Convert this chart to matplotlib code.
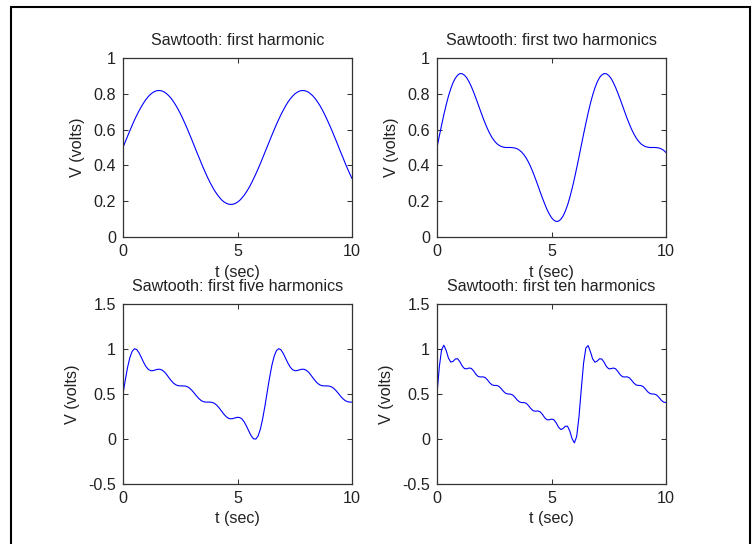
import numpy as np
import matplotlib
matplotlib.use("Agg")
import matplotlib.pyplot as plt
from matplotlib.patches import Rectangle

plt.rcParams['font.family'] = ['Liberation Sans', 'DejaVu Sans']
plt.rcParams['font.size'] = 11.6

# sample times, t = 0:0.1:10
t = np.linspace(0, 10, 101)

# V (volts) for each partial sum, one value per sample time
v_one = [0.500, 0.532, 0.563, 0.594, 0.624, 0.653, 0.680, 0.705, 0.728, 0.749,
         0.768, 0.784, 0.797, 0.807, 0.814, 0.818, 0.818, 0.816, 0.810, 0.801,
         0.789, 0.775, 0.757, 0.737, 0.715, 0.691, 0.664, 0.636, 0.607, 0.576,
         0.545, 0.513, 0.481, 0.450, 0.419, 0.388, 0.359, 0.331, 0.305, 0.281,
         0.259, 0.240, 0.223, 0.208, 0.197, 0.189, 0.184, 0.182, 0.183, 0.187,
         0.195, 0.205, 0.219, 0.235, 0.254, 0.275, 0.299, 0.325, 0.352, 0.381,
         0.411, 0.442, 0.474, 0.505, 0.537, 0.568, 0.599, 0.629, 0.657, 0.684,
         0.709, 0.732, 0.753, 0.771, 0.786, 0.799, 0.808, 0.815, 0.818, 0.818,
         0.815, 0.809, 0.799, 0.787, 0.772, 0.754, 0.734, 0.711, 0.686, 0.659,
         0.631, 0.602, 0.571, 0.540, 0.508, 0.476, 0.445, 0.413, 0.383, 0.354,
         0.327]

v_two = [0.500, 0.563, 0.625, 0.684, 0.738, 0.787, 0.828, 0.862, 0.887, 0.904,
         0.913, 0.912, 0.904, 0.889, 0.867, 0.840, 0.809, 0.775, 0.740, 0.704,
         0.669, 0.636, 0.606, 0.579, 0.556, 0.538, 0.523, 0.513, 0.506, 0.502,
         0.500, 0.500, 0.500, 0.499, 0.497, 0.493, 0.485, 0.474, 0.459, 0.440,
         0.417, 0.389, 0.359, 0.325, 0.290, 0.254, 0.219, 0.186, 0.155, 0.129,
         0.108, 0.094, 0.087, 0.088, 0.098, 0.116, 0.143, 0.178, 0.221, 0.271,
         0.326, 0.385, 0.447, 0.511, 0.574, 0.635, 0.693, 0.747, 0.794, 0.834,
         0.867, 0.891, 0.906, 0.913, 0.912, 0.902, 0.886, 0.863, 0.835, 0.803,
         0.769, 0.734, 0.698, 0.663, 0.631, 0.601, 0.575, 0.553, 0.535, 0.521,
         0.512, 0.505, 0.502, 0.500, 0.500, 0.500, 0.499, 0.497, 0.492, 0.484,
         0.472]

v_five = [0.500, 0.656, 0.796, 0.905, 0.974, 1.003, 0.994, 0.958, 0.906, 0.852,
          0.806, 0.775, 0.760, 0.759, 0.766, 0.774, 0.775, 0.767, 0.747, 0.718,
          0.683, 0.650, 0.622, 0.603, 0.593, 0.590, 0.590, 0.589, 0.582, 0.567,
          0.543, 0.513, 0.482, 0.453, 0.430, 0.416, 0.410, 0.410, 0.410, 0.406,
          0.395, 0.374, 0.345, 0.311, 0.277, 0.249, 0.231, 0.224, 0.227, 0.235,
          0.241, 0.238, 0.221, 0.187, 0.139, 0.085, 0.035, 0.002, -0.001, 0.034,
          0.111, 0.226, 0.369, 0.527, 0.681, 0.817, 0.919, 0.982, 1.004, 0.990,
          0.950, 0.897, 0.844, 0.800, 0.771, 0.759, 0.760, 0.768, 0.775, 0.775,
          0.764, 0.743, 0.712, 0.678, 0.645, 0.618, 0.600, 0.592, 0.590, 0.590,
          0.588, 0.580, 0.563, 0.538, 0.508, 0.476, 0.448, 0.427, 0.415, 0.410,
          0.410]

v_ten = [0.500, 0.799, 0.993, 1.042, 0.984, 0.899, 0.855, 0.862, 0.889, 0.892,
         0.858, 0.812, 0.782, 0.780, 0.789, 0.784, 0.756, 0.719, 0.694, 0.689,
         0.691, 0.683, 0.658, 0.625, 0.602, 0.595, 0.595, 0.586, 0.561, 0.530,
         0.507, 0.500, 0.499, 0.490, 0.465, 0.434, 0.412, 0.405, 0.405, 0.396,
         0.370, 0.337, 0.314, 0.309, 0.312, 0.303, 0.275, 0.238, 0.214, 0.213,
         0.221, 0.215, 0.181, 0.134, 0.106, 0.115, 0.142, 0.142, 0.088, 0.003,
         -0.043, 0.029, 0.247, 0.553, 0.841, 1.012, 1.038, 0.969, 0.888, 0.853,
         0.867, 0.892, 0.888, 0.851, 0.805, 0.780, 0.781, 0.789, 0.780, 0.750,
         0.714, 0.692, 0.689, 0.691, 0.680, 0.652, 0.620, 0.600, 0.595, 0.594,
         0.583, 0.556, 0.525, 0.505, 0.500, 0.499, 0.487, 0.460, 0.429, 0.409,
         0.405]

titles = ['Sawtooth: first harmonic', 'Sawtooth: first two harmonics',
          'Sawtooth: first five harmonics', 'Sawtooth: first ten harmonics']

xticks = [0, 5, 10]
xtick_labels = ['0', '5', '10']
yticks_a = [0, 0.2, 0.4, 0.6, 0.8, 1]
ytick_labels_a = ['0', '0.2', '0.4', '0.6', '0.8', '1']
yticks_b = [-0.5, 0, 0.5, 1, 1.5]
ytick_labels_b = ['-0.5', '0', '0.5', '1', '1.5']

W, H = 752, 544
fig = plt.figure(figsize=(W / 100, H / 100), dpi=100)

# axes boxes in pixels: left, top, right, bottom
boxes = [(123, 58, 352, 237), (437, 58, 666, 237),
         (123, 304, 352, 484), (437, 304, 666, 484)]
series = [v_one, v_two, v_five, v_ten]

for i in range(4):
    l, tp, r, b = boxes[i]
    ax = fig.add_axes([l / W, 1 - b / H, (r - l) / W, (b - tp) / H])
    ax.plot(t, series[i], color='#0000ff', lw=0.8)
    ax.set_xlim(0, 10)
    ax.set_xticks(xticks)
    ax.set_xticklabels(xtick_labels)
    if i < 2:
        ax.set_ylim(0, 1)
        ax.set_yticks(yticks_a)
        ax.set_yticklabels(ytick_labels_a)
    else:
        ax.set_ylim(-0.5, 1.5)
        ax.set_yticks(yticks_b)
        ax.set_yticklabels(ytick_labels_b)
    ax.tick_params(direction='in', length=3.5, width=0.75, top=True, right=True,
                   pad=5, color='#333333', labelcolor='#222222')
    for sp in ax.spines.values():
        sp.set_color('#333333')
        sp.set_linewidth(0.9)
    ax.set_title(titles[i], pad=9.4, color='#222222', fontsize=11.6)
    ax.set_xlabel('t (sec)', labelpad=4, color='#222222')
    ax.set_ylabel('V (volts)', labelpad=6, color='#222222')

# window frame around the figure
fig.patches.append(Rectangle((10.5 / W, -0.1), (749.5 - 10.5) / W, 1.1 - 7 / H,
                             transform=fig.transFigure, fill=False,
                             lw=1.5, ec='black'))

fig.savefig('out.png', dpi=100)
